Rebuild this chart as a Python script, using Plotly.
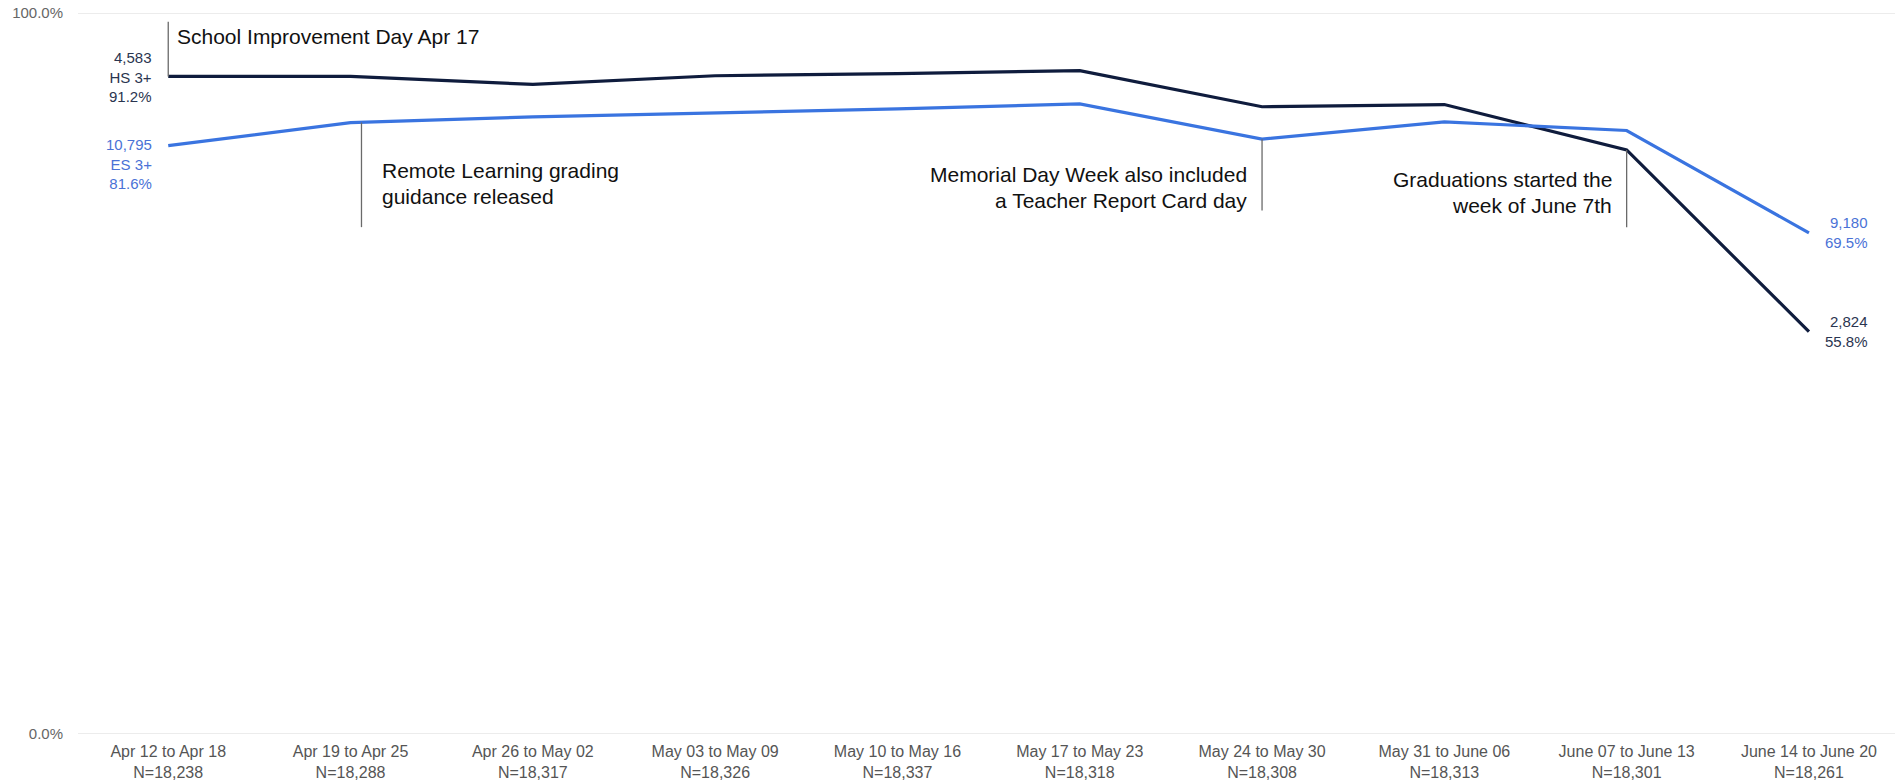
import plotly.graph_objects as go

# Weekly share of students logging 3+ days of activity
weeks = [
    "Apr 12 to Apr 18", "Apr 19 to Apr 25", "Apr 26 to May 02", "May 03 to May 09",
    "May 10 to May 16", "May 17 to May 23", "May 24 to May 30", "May 31 to June 06",
    "June 07 to June 13", "June 14 to June 20",
]
n_students = [18238, 18288, 18317, 18326, 18337, 18318, 18308, 18313, 18301, 18261]

hs_pct = [91.2, 91.2, 90.1, 91.3, 91.6, 92.0, 87.0, 87.3, 81.0, 55.8]
es_pct = [81.6, 84.8, 85.6, 86.1, 86.7, 87.4, 82.5, 84.9, 83.7, 69.5]

hs_counts = [4583, 2824]   # first and last week
es_counts = [10795, 9180]

HS_COLOR = "#0f1c3d"
ES_COLOR = "#3a74e0"
HS_TEXT = "#2a3550"
ES_TEXT = "#4a72d6"
FONT = "Arial, Liberation Sans, sans-serif"

tick_text = [f"{w}<br>N={n:,}" for w, n in zip(weeks, n_students)]
x_idx = list(range(len(weeks)))

fig = go.Figure()

# horizontal rules at 0% and 100%
for yv in (0, 100):
    fig.add_shape(type="line", xref="paper", yref="y", x0=0, x1=1, y0=yv, y1=yv,
                  line=dict(color="#d9d9d9", width=1), layer="below")

fig.add_trace(go.Scatter(x=x_idx, y=hs_pct, mode="lines", name="HS 3+",
                         line=dict(color=HS_COLOR, width=3.2), hoverinfo="skip"))
fig.add_trace(go.Scatter(x=x_idx, y=es_pct, mode="lines", name="ES 3+",
                         line=dict(color=ES_COLOR, width=3.2), hoverinfo="skip"))

ann = []
last = len(weeks) - 1

# endpoint labels
ann.append(dict(x=0, y=hs_pct[0], xref="x", yref="y", xanchor="right", yanchor="middle",
                xshift=-14, yshift=-1, align="right", showarrow=False,
                text=f"{hs_counts[0]:,}<br>HS 3+<br>{hs_pct[0]:.1f}%",
                font=dict(family=FONT, size=15, color=HS_TEXT)))
ann.append(dict(x=0, y=es_pct[0], xref="x", yref="y", xanchor="right", yanchor="middle",
                xshift=-14, yshift=-18, align="right", showarrow=False,
                text=f"{es_counts[0]:,}<br>ES 3+<br>{es_pct[0]:.1f}%",
                font=dict(family=FONT, size=15, color=ES_TEXT)))
ann.append(dict(x=last, y=hs_pct[last], xref="x", yref="y", xanchor="right", yanchor="middle",
                xshift=61, yshift=0, align="right", showarrow=False,
                text=f"{hs_counts[1]:,}<br>{hs_pct[last]:.1f}%",
                font=dict(family=FONT, size=15, color=HS_TEXT)))
ann.append(dict(x=last, y=es_pct[last], xref="x", yref="y", xanchor="right", yanchor="middle",
                xshift=61, yshift=0, align="right", showarrow=False,
                text=f"{es_counts[1]:,}<br>{es_pct[last]:.1f}%",
                font=dict(family=FONT, size=15, color=ES_TEXT)))

# event notes: (x, stem top, stem bottom, lines, anchor, text x offset, first line y)
notes = [
    (0.0, 98.8, hs_pct[0], ["School Improvement Day Apr 17"], "left", 7, 96.8),
    (1.06, es_pct[1], 70.3, ["Remote Learning grading", "guidance released"], "left", 19, 78.1),
    (6.0, es_pct[6], 72.6, ["Memorial Day Week also included", "a Teacher Report Card day"], "right", -13, 77.6),
    (8.0, hs_pct[8], 70.3, ["Graduations started the", "week of June 7th"], "right", -13, 76.9),
]
for x, y0, y1, lines, anchor, dx, ytxt in notes:
    fig.add_shape(type="line", xref="x", yref="y", x0=x, x1=x, y0=y0, y1=y1,
                  line=dict(color="#6a6a6a", width=1.3))
    for i, line in enumerate(lines):
        ann.append(dict(x=x, y=ytxt, xref="x", yref="y", xanchor=anchor, yanchor="middle",
                        xshift=dx, yshift=-25.7 * i, showarrow=False, text=line,
                        font=dict(family=FONT, size=21, color="#111111")))

fig.update_layout(
    width=1895, height=781,
    margin=dict(l=78, r=0, t=13, b=47),
    paper_bgcolor="white", plot_bgcolor="white",
    showlegend=False,
    annotations=ann,
    xaxis=dict(range=[-0.495, 9.472], tickmode="array", tickvals=x_idx, ticktext=tick_text,
               showgrid=False, zeroline=False, showline=False, ticklabelstandoff=6,
               tickfont=dict(family=FONT, size=16, color="#555555")),
    yaxis=dict(range=[0, 100], tickmode="array", tickvals=[0, 100],
               ticktext=["0.0%", "100.0%"], showgrid=False,
               zeroline=False, showline=False, ticklabelstandoff=14,
               tickfont=dict(family=FONT, size=15, color="#666666")),
)

fig.write_html("out.html")
